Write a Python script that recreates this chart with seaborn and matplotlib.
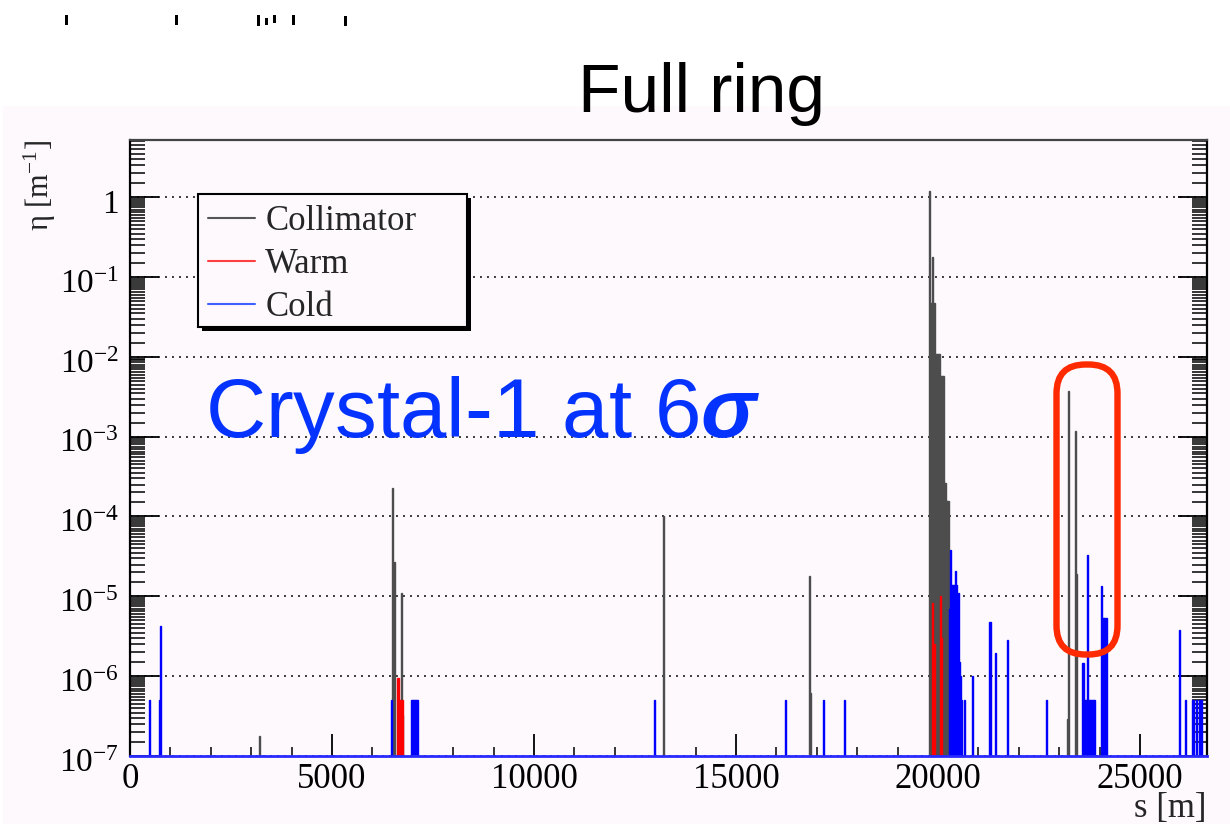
import numpy as np
import matplotlib
matplotlib.use("Agg")
import matplotlib.pyplot as plt
import seaborn as sns
from matplotlib.lines import Line2D
from matplotlib.patches import Rectangle, FancyBboxPatch
from matplotlib.ticker import MultipleLocator, LogLocator, FixedLocator, FuncFormatter, NullFormatter
from matplotlib.transforms import IdentityTransform, ScaledTranslation

# ---- loss map data: position s [m] and local inefficiency eta [1/m] ----
collimator_s = [3220, 6490, 6530, 6700, 6740, 13200, 16800, 16840,
                19775, 19800, 19825, 19850, 19875, 19900, 19925, 19950, 19975,
                20000, 20025, 20050, 20075, 20100, 20125, 20150, 20175, 20200,
                20225, 20250, 23200, 23235, 23410, 23435]
collimator_eta = [1.8e-7, 2.25e-4, 2.7e-5, 1.1e-5, 3.3e-7, 1.0e-4, 1.8e-5, 6.2e-7,
                  1.2, 0.047, 0.047, 0.18, 0.047, 0.047, 0.0108, 0.0108, 0.0108,
                  0.0108, 0.0108, 0.0057, 0.0057, 0.0057, 0.0057, 2.6e-4, 2.6e-4, 1.55e-4,
                  1.55e-4, 1.55e-4, 2.9e-7, 3.7e-3, 1.18e-3, 1.9e-5]

warm_s = [6600, 6625, 6650, 6675, 6725, 19850, 19875, 19900, 20050, 20075]
warm_eta = [9.4e-7, 9.4e-7, 5e-7, 5e-7, 5e-7, 8.2e-6, 2.5e-6, 2.5e-6, 1.0e-5, 3.0e-6]

cold_s = [480, 740, 765, 6460, 6950, 6975, 7000, 7025, 7050, 7075, 7100,
          12985, 16230, 17160, 17680,
          20275, 20300, 20325, 20350, 20375, 20400, 20425, 20450, 20475, 20500,
          20525, 20550, 20575, 20670, 20870, 21290, 21410, 21715, 22690,
          23595, 23620, 23645, 23670, 23695, 23720, 23745, 23770, 23795, 23820,
          23845, 23870, 24025, 24050, 24075, 24100, 24125, 24150,
          25990, 26135, 26300, 26375, 26450, 26500]
cold_eta = [5e-7, 5e-7, 4.25e-6, 5e-7, 5e-7, 5e-7, 5e-7, 5e-7, 5e-7, 5e-7, 5e-7,
            5e-7, 5e-7, 5e-7, 5e-7,
            7e-6, 3.8e-5, 1.4e-5, 1.4e-5, 1.4e-5, 1.4e-5, 2.1e-5, 1.4e-5, 3e-6, 1.1e-5,
            1.5e-6, 1e-6, 5e-7, 5e-7, 1e-6, 4.8e-6, 1.95e-6, 2.8e-6, 5e-7,
            1.45e-6, 1.45e-6, 5e-7, 5e-7, 5e-7, 3.3e-5, 5e-7, 5e-7, 5e-7, 5e-7,
            5e-7, 5e-7, 1.35e-5, 5.4e-6, 5.4e-6, 5.4e-6, 5.4e-6, 5.4e-6,
            3.8e-6, 5e-7, 5e-7, 5e-7, 5e-7, 5e-7]

series_labels = ["Collimator", "Warm", "Cold"]
series_colors = ["#4d4d4d", "#ff0000", "#0000ff"]
x_ticks = [0, 5000, 10000, 15000, 20000, 25000]
y_ticks = [1e-7, 1e-6, 1e-5, 1e-4, 1e-3, 1e-2, 1e-1, 1]
ring_length = 26659
bin_width = 25

W, H = 1230, 824
BG = "#fdf9fd"

sns.set_theme(style="ticks")
plt.rcParams["font.family"] = ["Liberation Serif", "DejaVu Serif"]
plt.rcParams["mathtext.fontset"] = "custom"
plt.rcParams["mathtext.rm"] = "Liberation Serif"
plt.rcParams["mathtext.it"] = "Liberation Serif:italic"
plt.rcParams["mathtext.bf"] = "Liberation Sans:bold:italic"


def fx(px):
    return px / W


def fy(py):
    return 1 - py / H


fig = plt.figure(figsize=(W / 100, H / 100), dpi=100, facecolor="white")

# slide panel behind the plot
fig.add_artist(Rectangle((fx(3), 0), 1 - fx(3), fy(106), transform=fig.transFigure,
                         facecolor=BG, edgecolor="none", zorder=-5))

ax = fig.add_axes([fx(130), fy(756), fx(1207) - fx(130), fy(140) - fy(756)])
ax.set_facecolor(BG)

for s, eta, c in zip([collimator_s, warm_s, cold_s],
                     [collimator_eta, warm_eta, cold_eta], series_colors):
    sns.histplot(x=s, weights=eta, binwidth=bin_width, binrange=(0, 1067 * bin_width),
                 element="bars", fill=True, color=c, edgecolor=c, linewidth=1.0,
                 alpha=1, ax=ax)

ax.set_yscale("log")
ax.set_xlim(0, ring_length)
ax.set_ylim(1e-7, 5.2)
ax.set_xlabel("")
ax.set_ylabel("")

ax.xaxis.set_major_locator(FixedLocator(x_ticks))
ax.xaxis.set_minor_locator(MultipleLocator(1000))
ax.yaxis.set_major_locator(FixedLocator(y_ticks))
ax.yaxis.set_minor_locator(LogLocator(base=10, subs=np.arange(1.5, 10, 0.5), numticks=100))
ax.yaxis.set_minor_formatter(NullFormatter())


def decade_label(v, pos):
    e = int(round(np.log10(v)))
    return "1" if e == 0 else rf"$10^{{{e}}}$"


ax.yaxis.set_major_formatter(FuncFormatter(decade_label))
ax.xaxis.set_major_formatter(FuncFormatter(lambda v, p: f"{int(v)}"))

ax.tick_params(axis="both", which="both", direction="in", colors="black")
ax.tick_params(axis="y", which="major", length=21, width=1.3, left=True, right=True,
               labelsize=24, pad=8)
ax.tick_params(axis="y", which="minor", length=11, width=1.1, left=True, right=True)
ax.tick_params(axis="x", which="major", length=16, width=1.3, bottom=True, top=False,
               labelsize=25, pad=5)
ax.tick_params(axis="x", which="minor", length=6.5, width=1.1, bottom=True, top=False)

# ROOT-style decade labels sit slightly below their tick
shift = ScaledTranslation(0, -4 / 100, fig.dpi_scale_trans)
for lab in ax.get_yticklabels():
    lab.set_transform(lab.get_transform() + shift)

ax.grid(False)
ax.yaxis.grid(True, which="major", linestyle=(0, (1, 2.6)), color="#3a3a3a", linewidth=1.4)
ax.set_axisbelow(True)

for side in ["left", "right"]:
    ax.spines[side].set_color("black")
    ax.spines[side].set_linewidth(1.6)
ax.spines["top"].set_color("#444444")
ax.spines["top"].set_linewidth(1.6)
ax.spines["bottom"].set_color("#2a2aff")
ax.spines["bottom"].set_linewidth(2.0)

# axis titles
fig.text(fx(40), fy(140), "η [m$^{-1}$]", rotation=90, ha="center", va="top", fontsize=22)
fig.text(fx(1207), fy(817), "s [m]", ha="right", va="baseline", fontsize=25)

# legend box with drop shadow
lx0, ly0, lx1, ly1 = 198, 194, 467, 327
fig.add_artist(Rectangle((fx(lx0 + 4), fy(ly1 + 4)), fx(lx1) - fx(lx0), fy(ly0) - fy(ly1),
                         transform=fig.transFigure, facecolor="black", edgecolor="none",
                         zorder=4))
fig.add_artist(Rectangle((fx(lx0), fy(ly1)), fx(lx1) - fx(lx0), fy(ly0) - fy(ly1),
                         transform=fig.transFigure, facecolor=BG, edgecolor="black",
                         linewidth=1.5, zorder=4.5))
handles = [Line2D([], [], color=c, linewidth=1.5) for c in ["#555555", "#ff4040", "#4060ff"]]
leg = fig.legend(handles, series_labels, loc="upper left",
                 bbox_to_anchor=(fx(208), fy(205)), bbox_transform=fig.transFigure,
                 frameon=False, fontsize=25, handlelength=1.35, handletextpad=0.3,
                 labelspacing=0.29, borderpad=0, borderaxespad=0)
leg.set_zorder(6)

# annotation text
fig.text(fx(205), fy(437), r"Crystal-1 at 6$\mathbf{\sigma}$", color="#0433ff",
         fontsize=60, family="Liberation Sans", ha="left", va="baseline", zorder=6)

# highlight around the crystal-induced losses
fig.add_artist(FancyBboxPatch((1056.5, H - 654.5), 61, 290,
                              boxstyle="round,pad=0,rounding_size=29",
                              transform=IdentityTransform(), fill=False,
                              edgecolor="#ff2a00", linewidth=4.6, zorder=8))

# slide heading
fig.text(fx(701), fy(112.5), "Full ring", ha="center", va="baseline", fontsize=50,
         family="Liberation Sans", color="black", zorder=6)

# lower edge of the clipped line above the heading
for px, top, bot in [(66, 15, 25), (177, 15, 25), (258, 15, 26), (266, 18, 25),
                     (274, 15, 23), (293, 15, 25), (345, 16, 26)]:
    fig.add_artist(Rectangle((fx(px - 1.5), fy(bot)), fx(3), fy(top) - fy(bot),
                             transform=fig.transFigure, facecolor="black",
                             edgecolor="none", zorder=6))

fig.savefig("out.png", dpi=100, facecolor="white")
